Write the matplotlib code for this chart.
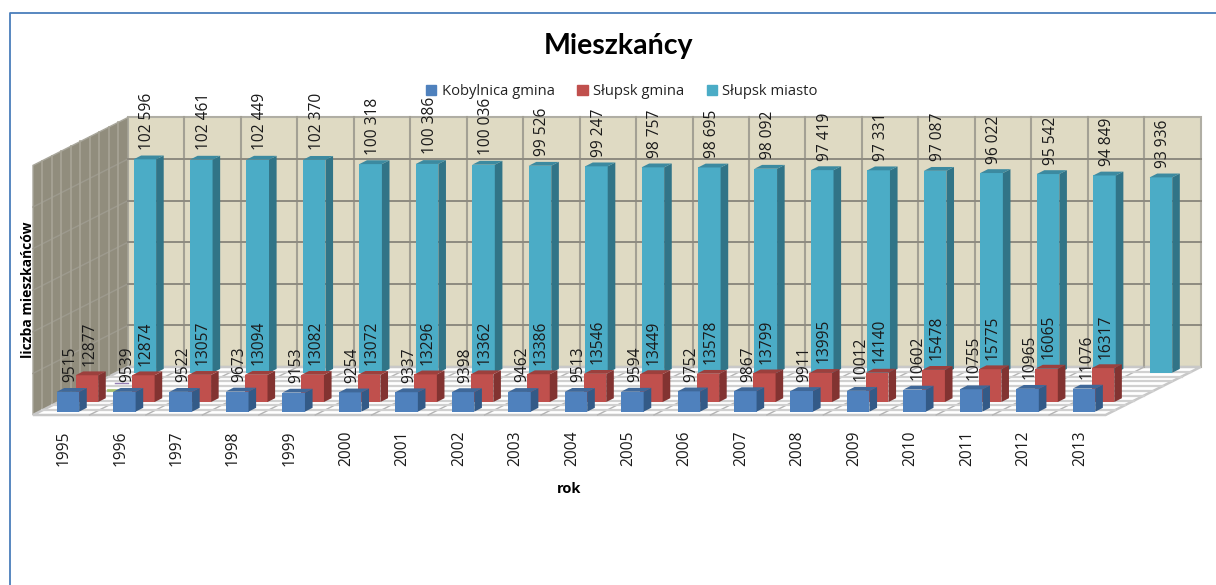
import matplotlib
matplotlib.use('Agg')
import matplotlib.pyplot as plt
from matplotlib.patches import Patch, Polygon

years = list(range(1995, 2014))
names = ['Kobylnica gmina', 'Słupsk gmina', 'Słupsk miasto']
kobylnica = [9515, 9539, 9522, 9673, 9153, 9254, 9337, 9398, 9462, 9513,
             9594, 9752, 9867, 9911, 10012, 10602, 10755, 10965, 11076]
slupsk_gmina = [12877, 12874, 13057, 13094, 13082, 13072, 13296, 13362, 13386, 13546,
                13449, 13578, 13799, 13995, 14140, 15478, 15775, 16065, 16317]
slupsk_miasto = [102596, 102461, 102449, 102370, 100318, 100386, 100036, 99526, 99247, 98757,
                 98695, 98092, 97419, 97331, 97087, 96022, 95542, 94849, 93936]
miasto_labels = ['102 596', '102 461', '102 449', '102 370', '100 318', '100 386', '100 036',
                 '99 526', '99 247', '98 757', '98 695', '98 092', '97 419', '97 331',
                 '97 087', '96 022', '95 542', '94 849', '93 936']

PX_CAT = 56.45      # pixels per year
PX_UNIT = 0.00208   # pixels per inhabitant
DX = 95 / PX_CAT    # full depth of the floor, in years
DY = 48 / PX_UNIT   # same, in inhabitants
YMAX = 120000
BAR_W = 0.4
BAR_D = 0.08
PX = 1 / PX_UNIT
W, H = 1216, 585

plt.rcParams['font.family'] = ['Open Sans', 'DejaVu Sans']

fig = plt.figure(figsize=(12.16, 5.85), dpi=100)
ax = fig.add_axes([0, 0, 1, 1])
ax.set_xlim(-33 / PX_CAT, (W - 33) / PX_CAT)
ax.set_ylim(-(H - 415) / PX_UNIT, 415 / PX_UNIT)
ax.axis('off')


def proj(c, v, d):
    return (c + d * DX, v + d * DY)


def quad(pts, color, z, **kw):
    ax.add_patch(Polygon(pts, closed=True, facecolor=color, zorder=z, **kw))


n = len(years)

# walls and floor
quad([proj(0, 0, 1), proj(n, 0, 1), proj(n, YMAX, 1), proj(0, YMAX, 1)], '#dfdac3', 1,
     edgecolor='#b0aea4', linewidth=1.5)
quad([proj(0, 0, 0), proj(0, 0, 1), proj(0, YMAX, 1), proj(0, YMAX, 0)], '#918d7d', 1,
     edgecolor='#a9a79c', linewidth=1)
quad([proj(0, 0, 0), proj(n, 0, 0), proj(n, 0, 1), proj(0, 0, 1)], 'white', 1,
     edgecolor='#c8c8c8', linewidth=1.8)

for c in range(1, n):
    ax.plot(*zip(proj(c, 0, 1), proj(c, YMAX, 1)), color='#a3a094', lw=1.5, zorder=2)
    ax.plot(*zip(proj(c, 0, 0), proj(c, 0, 1)), color='#b4b4b4', lw=1, zorder=2)
for v in range(20000, YMAX, 20000):
    ax.plot(*zip(proj(0, v, 0), proj(0, v, 1)), color='#9d9a8e', lw=1, zorder=2)
    ax.plot(*zip(proj(0, v, 1), proj(n, v, 1)), color='#8d8a80', lw=1.4, zorder=2)
for i in range(1, 10):
    ax.plot(*zip(proj(0, 0, i / 10), proj(0, YMAX, i / 10)), color='#a8a597', lw=1.2, zorder=2)
    ax.plot(*zip(proj(0, 0, i / 10), proj(n, 0, i / 10)), color='#d0d0d0', lw=1.6, zorder=2)

series = [
    (slupsk_miasto, 0.88, '#4bacc6', '#317487', '#3c8aa0', 3),
    (slupsk_gmina, 0.27, '#c0504d', '#823331', '#9c403d', 4),
    (kobylnica, 0.07, '#4f81bd', '#335a87', '#3f6899', 5),
]
for vals, d, front, side, top, z in series:
    for i, v in enumerate(vals):
        c0 = i + 0.5 - BAR_W / 2
        c1 = i + 0.5 + BAR_W / 2
        x0, y0 = proj(c0, 0, d)
        ax.bar(x0, v, width=BAR_W, bottom=y0, align='edge', color=front, zorder=z)
        quad([proj(c1, 0, d), proj(c1, 0, d + BAR_D), proj(c1, v, d + BAR_D), proj(c1, v, d)], side, z)
        quad([proj(c0, v, d), proj(c1, v, d), proj(c1, v, d + BAR_D), proj(c0, v, d + BAR_D)], top, z)

# data labels
gap = 9.5 * PX
fs = 11.2
for i in range(n):
    x, y = proj(i + 0.5, kobylnica[i], 0.07)
    ax.text(x + 2.5 / PX_CAT, y + gap, str(kobylnica[i]), rotation=90, ha='center', va='bottom',
            fontsize=fs, color='#1a1a1a', zorder=8)
    x, y = proj(i + 0.5, slupsk_gmina[i], 0.27)
    ax.text(x + 2.5 / PX_CAT, y + gap, str(slupsk_gmina[i]), rotation=90, ha='center', va='bottom',
            fontsize=fs, color='#1a1a1a', zorder=8)
    x, y = proj(i + 0.5, slupsk_miasto[i], 0.88)
    ax.text(x + 2.5 / PX_CAT, y + gap, miasto_labels[i], rotation=90, ha='center', va='bottom',
            fontsize=fs, color='#1a1a1a', zorder=8)
    # year labels under the floor
    ax.text(i + 0.5 + 2.5 / PX_CAT, -15.5 * PX, str(years[i]), rotation=90, ha='center', va='top',
            fontsize=fs, color='#1a1a1a', zorder=8)

# frame of the slide, only top and left visible
ax.plot([1, 10 / W, 10 / W], [1 - 12.5 / H, 1 - 12.5 / H, 0], color='#4a7ebb',
        lw=1.3, transform=ax.transAxes, clip_on=False)

# leftovers of the original slide near the 1996 bars
ax.plot([108 / W, 118 / W], [1 - 390 / H] * 2, color='#9bbb59', lw=2, alpha=0.8,
        transform=ax.transAxes, zorder=4.5)
ax.plot([115 / W, 128 / W], [1 - 382.5 / H] * 2, color='#7a5fa0', lw=1, alpha=0.8,
        transform=ax.transAxes, zorder=4.5)

ax.text(619 / W, 1 - 46 / H, 'Mieszkańcy', transform=ax.transAxes, fontsize=20.5,
        fontweight='bold', ha='center', va='center', color='black', family=['Lato', 'DejaVu Sans'])
ax.text(28 / W, 1 - 290 / H, 'liczba mieszkańców', transform=ax.transAxes, fontsize=10,
        fontweight='bold', rotation=90, ha='center', va='center', color='black')
ax.text(569 / W, 1 - 489 / H, 'rok', transform=ax.transAxes, fontsize=10.5,
        fontweight='bold', ha='center', va='center', color='black')

handles = [Patch(color=s[2]) for s in series[::-1]]
ax.legend(handles, names, ncol=3, loc='center', bbox_to_anchor=(622 / W, 1 - 91.5 / H),
          frameon=False, fontsize=10.6, handlelength=0.7, handleheight=0.7, handletextpad=0.35,
          columnspacing=1.55, labelcolor='#222222', borderpad=0)

fig.savefig('out.png', dpi=100)
